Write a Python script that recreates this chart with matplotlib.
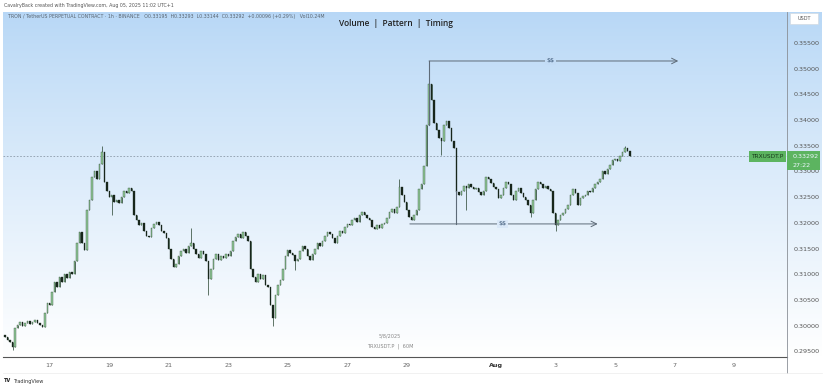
import numpy as np
import pandas as pd
import matplotlib
matplotlib.use("Agg")
import matplotlib.pyplot as plt
import matplotlib.dates as mdates
from matplotlib.patches import Rectangle
from matplotlib.lines import Line2D

# TRXUSDT.P, 2h closes (Jul 15 12:00 -> Aug 5 12:00)
closes = [
    0.2978, 0.2972, 0.2968, 0.2958, 0.2995, 0.3002, 0.3008, 0.3000, 0.3005, 0.3010, 0.3003, 0.3008,
    0.3012, 0.3006, 0.3002, 0.2998, 0.3025, 0.3045, 0.3040, 0.3065, 0.3085, 0.3075, 0.3095, 0.3085,
    0.3100, 0.3092, 0.3105, 0.3100, 0.3125, 0.3160, 0.3182, 0.3160, 0.3148, 0.3225, 0.3245, 0.3290,
    0.3300, 0.3285, 0.3315, 0.3338, 0.3280, 0.3262, 0.3250, 0.3255, 0.3240, 0.3245, 0.3238, 0.3250,
    0.3262, 0.3258, 0.3268, 0.3262, 0.3215, 0.3205, 0.3195, 0.3200, 0.3185, 0.3175, 0.3172, 0.3190,
    0.3198, 0.3202, 0.3195, 0.3185, 0.3180, 0.3170, 0.3150, 0.3130, 0.3115, 0.3120, 0.3135, 0.3145,
    0.3150, 0.3142, 0.3155, 0.3160, 0.3150, 0.3140, 0.3132, 0.3145, 0.3140, 0.3125, 0.3090, 0.3110,
    0.3130, 0.3140, 0.3128, 0.3135, 0.3132, 0.3140, 0.3135, 0.3145, 0.3165, 0.3172, 0.3178, 0.3170,
    0.3182, 0.3175, 0.3165, 0.3110, 0.3095, 0.3085, 0.3100, 0.3090, 0.3098, 0.3080, 0.3075, 0.3040,
    0.3015, 0.3060, 0.3080, 0.3088, 0.3110, 0.3135, 0.3148, 0.3142, 0.3138, 0.3125, 0.3130, 0.3145,
    0.3155, 0.3150, 0.3135, 0.3128, 0.3140, 0.3150, 0.3160, 0.3155, 0.3165, 0.3175, 0.3182, 0.3178,
    0.3170, 0.3160, 0.3175, 0.3185, 0.3180, 0.3192, 0.3198, 0.3195, 0.3205, 0.3210, 0.3202, 0.3215,
    0.3222, 0.3215, 0.3210, 0.3205, 0.3192, 0.3188, 0.3195, 0.3190, 0.3198, 0.3200, 0.3210, 0.3222,
    0.3228, 0.3220, 0.3230, 0.3270, 0.3255, 0.3240, 0.3225, 0.3212, 0.3205, 0.3215, 0.3225, 0.3265,
    0.3275, 0.3310, 0.3390, 0.3470, 0.3440, 0.3395, 0.3380, 0.3365, 0.3360, 0.3390, 0.3398, 0.3385,
    0.3360, 0.3345, 0.3260, 0.3255, 0.3262, 0.3272, 0.3268, 0.3275, 0.3270, 0.3265, 0.3268, 0.3260,
    0.3255, 0.3262, 0.3290, 0.3285, 0.3278, 0.3270, 0.3265, 0.3248, 0.3255, 0.3268, 0.3280, 0.3275,
    0.3255, 0.3245, 0.3262, 0.3268, 0.3258, 0.3250, 0.3245, 0.3235, 0.3220, 0.3245, 0.3265, 0.3280,
    0.3275, 0.3268, 0.3272, 0.3265, 0.3262, 0.3220, 0.3195, 0.3205, 0.3215, 0.3220, 0.3228, 0.3235,
    0.3255, 0.3265, 0.3258, 0.3235, 0.3248, 0.3252, 0.3255, 0.3262, 0.3260, 0.3268, 0.3275, 0.3280,
    0.3285, 0.3300, 0.3295, 0.3305, 0.3312, 0.3322, 0.3325, 0.3320, 0.3330, 0.3338, 0.3345, 0.3340,
    0.33292,
]
first_open = 0.2982

# visible wicks that stick out of the bodies (index -> (high, low))
wicks = {
    3: (None, 0.2953), 39: (0.3350, None), 43: (None, 0.3215), 75: (0.3190, None),
    82: (None, 0.3060), 108: (None, 0.2999), 117: (None, 0.3108), 159: (0.3285, None),
    171: (0.3515, None), 176: (None, 0.3332), 186: (None, 0.3225), 212: (None, 0.3211),
    222: (None, 0.3185), 250: (0.3350, None),
}

last_price = 0.33292
high_level = 0.3515   # upper $$ line
low_level = 0.3198    # lower $$ line

price_ticks = [0.295, 0.300, 0.305, 0.310, 0.315, 0.320, 0.325, 0.330,
               0.335, 0.340, 0.345, 0.350, 0.355]
date_ticks = ["2025-07-17", "2025-07-19", "2025-07-21", "2025-07-23", "2025-07-25",
              "2025-07-27", "2025-07-29", "2025-08-01", "2025-08-03", "2025-08-05",
              "2025-08-07", "2025-08-09"]
date_labels = ["17", "19", "21", "23", "25", "27", "29", "Aug", "3", "5", "7", "9"]

times = pd.date_range("2025-07-15 12:00", periods=len(closes), freq="2h")
t = mdates.date2num(times.to_pydatetime())
c = np.array(closes)
o = np.concatenate([[first_open], c[:-1]])
hi = np.maximum(o, c)
lo = np.minimum(o, c)
for k, (h, l) in wicks.items():
    if h is not None:
        hi[k] = h
    if l is not None:
        lo[k] = l

W, H = 825, 388
fig = plt.figure(figsize=(W / 100, H / 100), dpi=100)
fig.patch.set_facecolor("white")

def fx(x):
    return x / W

def fy(y):
    return 1 - y / H

def dnum(s):
    return mdates.date2num(pd.Timestamp(s))

# background gradient (chart pane + price scale)
bg = fig.add_axes([fx(3), fy(357), fx(822) - fx(3), fy(12) - fy(357)])
top = np.array([0.72, 0.845, 0.965])
bot = np.array([1.0, 1.0, 1.0])
s = np.linspace(0, 1, 256)[:, None] ** 0.9
grad = top * (1 - s) + bot * s
bg.imshow(grad[:, None, :], aspect="auto", extent=[0, 1, 0, 1])
bg.set_axis_off()

ax = fig.add_axes([fx(3), fy(357), fx(787) - fx(3), fy(12) - fy(357)])
ax.patch.set_alpha(0)

up = c >= o
up_col, dn_col, edge = "#93c99a", "#17261b", "#24402b"
ax.vlines(t, lo, hi, color=edge, lw=0.5, zorder=2)
bw = 0.05
ax.bar(t[up], (c - o)[up], bottom=o[up], width=bw, color=up_col, edgecolor=edge, lw=0.25, zorder=3)
ax.bar(t[~up], (c - o)[~up], bottom=o[~up], width=bw, color=dn_col, edgecolor=dn_col, lw=0.25, zorder=3)

ax.set_ylim(0.29391, 0.36103)
ax.set_xlim(dnum("2025-07-16") - 17 / 29.75, dnum("2025-07-16") + 767 / 29.75)

ax.axhline(last_price, color="#8c9bab", lw=0.6, ls=(0, (2, 2)), zorder=1)

# $$ levels
line_col = "#5e6b78"
t_hi = t[171]
t_hi_end = dnum("2025-08-07 03:00")
ax.plot([t_hi, t_hi], [c[170], high_level], color=line_col, lw=0.8, zorder=4)
ax.annotate("", xy=(t_hi_end, high_level), xytext=(t_hi, high_level),
            arrowprops=dict(arrowstyle="->", color=line_col, lw=0.7, shrinkA=0, shrinkB=0))
ax.text(dnum("2025-08-02 20:00"), high_level, r"\$\$", ha="center", va="center", fontsize=4.5,
        color="#2d4a6a", bbox=dict(boxstyle="square,pad=0.25", fc="#c3dcf5", ec="none"))
t_lo = dnum("2025-07-29 02:30")
t_lo_end = dnum("2025-08-04 10:00")
t_drop = t[182]
ax.plot([t_drop, t_drop], [low_level, 0.3262], color=line_col, lw=0.8, zorder=4)
ax.annotate("", xy=(t_lo_end, low_level), xytext=(t_lo, low_level),
            arrowprops=dict(arrowstyle="->", color=line_col, lw=0.7, shrinkA=0, shrinkB=0))
ax.text(dnum("2025-08-01 05:30"), low_level, r"\$\$", ha="center",
        va="center", fontsize=4.5, color="#2d4a6a",
        bbox=dict(boxstyle="square,pad=0.25", fc="#dae8f8", ec="none"))

# axes styling
for sp in ["top", "left"]:
    ax.spines[sp].set_visible(False)
ax.spines["bottom"].set_color("#555555")
ax.spines["bottom"].set_linewidth(0.8)
ax.spines["right"].set_color("#8a8f96")
ax.spines["right"].set_linewidth(0.6)
ax.yaxis.tick_right()
ax.set_yticks(price_ticks)
ax.set_yticklabels([f"{p:.5f}" for p in price_ticks])
ax.set_xticks([dnum(d) for d in date_ticks])
ax.set_xticklabels(date_labels)
ax.tick_params(axis="y", length=0, pad=5, labelsize=4.6, labelcolor="#555555")
ax.tick_params(axis="x", length=0, pad=4, labelsize=4.6, labelcolor="#666666")
for lab in ax.get_xticklabels():
    if lab.get_text() == "Aug":
        lab.set_color("#333333")
        lab.set_fontweight("bold")

# price scale extras
fig.add_artist(Line2D([fx(787), fx(787)], [fy(357), fy(373)], color="#8a8f96", lw=0.6))
fig.add_artist(Line2D([fx(3), fx(822)], [fy(373), fy(373)], color="#ececec", lw=0.5))
fig.add_artist(Rectangle((fx(790), fy(24)), fx(818) - fx(790), fy(13) - fy(24),
                         fc="white", ec="#d0d6dd", lw=0.4))
fig.text(fx(804), fy(18.5), "USDT", ha="center", va="center", fontsize=3.6, color="#555555")

tag_col = "#5cb460"
fig.add_artist(Rectangle((fx(749), fy(162)), fx(786) - fx(749), fy(151) - fy(162),
                         fc=tag_col, ec="none"))
fig.text(fx(767.5), fy(156.5), "TRXUSDT.P", ha="center", va="center", fontsize=4.2, color="#173a1b")
fig.add_artist(Rectangle((fx(787), fy(170)), fx(820) - fx(787), fy(151) - fy(170),
                         fc=tag_col, ec="none"))
fig.text(fx(793), fy(156.5), f"{last_price:.5f}", ha="left", va="center", fontsize=4.6, color="#eef6ff")
fig.text(fx(793), fy(165), "27:22", ha="left", va="center", fontsize=4.6, color="#eef6ff")

# texts
fig.text(fx(4), fy(5), "CavalryBack created with TradingView.com, Aug 05, 2025 11:02 UTC+1",
         ha="left", va="center", fontsize=3.4, color="#555555")
fig.text(fx(8), fy(16.5),
         "TRON / TetherUS PERPETUAL CONTRACT \u00b7 1h \u00b7 BINANCE   O0.33195  H0.33293  "
         "L0.33144  C0.33292  +0.00096 (+0.29%)   Vol10.24M",
         ha="left", va="center", fontsize=3.4, color="#5a6570")
fig.text(fx(396), fy(23), "Volume  |  Pattern  |  Timing", ha="center", va="center",
         fontsize=6.0, color="#222222", family="Open Sans", fontweight="semibold")
fig.text(fx(390), fy(336), "5/8/2025", ha="center", va="center", fontsize=3.6, color="#888888")
fig.text(fx(390), fy(346), "TRXUSDT.P  |  60M", ha="center", va="center", fontsize=3.6, color="#888888")
fig.text(fx(4), fy(381), "TV", ha="left", va="center", fontsize=3.6, color="#222222", fontweight="bold")
fig.text(fx(13), fy(381), "TradingView", ha="left", va="center", fontsize=3.6, color="#333333")

fig.savefig("out.png", dpi=100)
